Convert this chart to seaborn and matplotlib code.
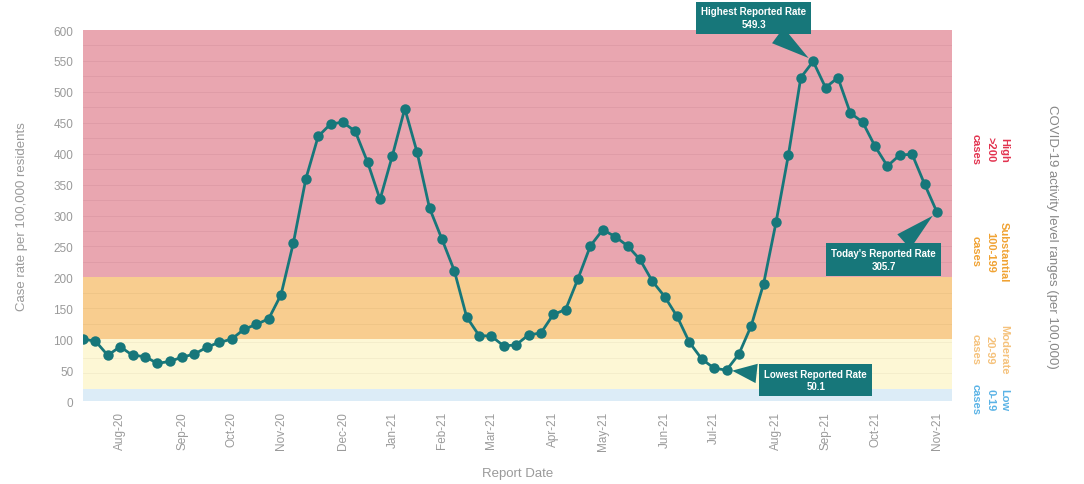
import matplotlib
matplotlib.use("Agg")
import matplotlib.pyplot as plt
import seaborn as sns
import pandas as pd

# Weekly case rate per 100,000 residents
case_rate = [100, 97, 74, 88, 74, 72, 61, 64, 71, 76, 87, 95, 100, 116, 124, 133, 172, 256,
             359, 428, 448, 451, 436, 386, 326, 397, 473, 402, 312, 262, 211, 136, 106, 105, 89,
             91, 107, 110, 140, 148, 198, 251, 277, 266, 251, 229, 194, 169, 137, 95, 68, 53, 50.1, 76,
             122, 190, 289, 398, 523, 549.3, 507, 523, 466, 451, 412, 380, 398, 399, 351, 305.7]
week = list(range(len(case_rate)))

# month tick labels and the week they sit on
tick_weeks = [3, 8, 12, 16, 21, 25, 29, 33, 38, 42, 47, 51, 56, 60, 64, 69]
tick_labels = ["Aug-20", "Sep-20", "Oct-20", "Nov-20", "Dec-20", "Jan-21", "Feb-21", "Mar-21",
               "Apr-21", "May-21", "Jun-21", "Jul-21", "Aug-21", "Sep-21", "Oct-21", "Nov-21"]

# activity level bands
band_low = [0, 20, 100, 200]
band_high = [20, 100, 200, 600]
band_colors = ["#dcecf7", "#fdf7d5", "#f8cd8f", "#e9a6b0"]
grid_colors = ["#d3e5f1", "#f4edcb", "#efc587", "#df9ca7"]

df = pd.DataFrame({"week": week, "rate": case_rate})

teal = "#17777a"
gray = "#9a9a9a"

sns.set_style("white")
plt.rcParams["font.family"] = ["Liberation Sans", "DejaVu Sans"]

fig = plt.figure(figsize=(10.84, 4.85), dpi=100)
ax = fig.add_axes([0.0766, 0.171, 0.8014, 0.765])

# coloured bands + faint gridlines every 25
for lo, hi, c, gc in zip(band_low, band_high, band_colors, grid_colors):
    ax.axhspan(lo, hi, color=c, zorder=0, lw=0)
    for g in range(lo, hi, 25):
        if g > lo:
            ax.axhline(g, color=gc, lw=0.7, zorder=0.5)

sns.lineplot(data=df, x="week", y="rate", ax=ax, color=teal, lw=2.0,
             marker="o", markersize=7.5, markeredgewidth=0, zorder=3)

ax.set_xlim(0, 70.2)
ax.set_ylim(0, 600)
ax.set_yticks(range(0, 601, 50))
ax.set_xticks(tick_weeks)
ax.set_xticklabels(tick_labels, rotation=90)
ax.tick_params(axis="both", colors=gray, labelsize=8.5, length=0, pad=7)
ax.set_xlabel("Report Date", color=gray, fontsize=9.5, labelpad=12)
ax.set_ylabel("Case rate per 100,000 residents", color=gray, fontsize=9.5, labelpad=18)
for s in ax.spines.values():
    s.set_visible(False)

# callouts
peak_i = case_rate.index(max(case_rate))
low_i = case_rate.index(min(case_rate))
last_i = len(case_rate) - 1
callouts = [
    ("Highest Reported Rate\n549.3", peak_i, case_rate[peak_i], 54.2, 620),
    ("Today's Reported Rate\n305.7", last_i, case_rate[last_i], 64.7, 229),
    ("Lowest Reported Rate\n50.1", low_i, case_rate[low_i], 59.2, 34),
]
for txt, xi, yv, tx, ty in callouts:
    ax.annotate(txt, xy=(xi, yv), xytext=(tx, ty), textcoords="data",
                ha="center", va="center", color="white", fontsize=7, fontweight="bold",
                annotation_clip=False, zorder=5, linespacing=1.3,
                bbox=dict(boxstyle="square,pad=0.5", fc=teal, ec="none"),
                arrowprops=dict(arrowstyle="wedge,tail_width=0.7", mutation_scale=20,
                                fc=teal, ec="none", shrinkB=4))

# right side legend text
fig.text(1052 / 1084, 1 - 237 / 485, "COVID-19 activity level ranges (per 100,000)",
         rotation=270, ha="center", va="center", color="#888888", fontsize=9.5)
levels = [("High\n>200\ncases", "#e2334f", 150),
          ("Substantial\n100-199\ncases", "#f0a232", 252),
          ("Moderate\n20-99\ncases", "#f5c27c", 350),
          ("Low\n0-19\ncases", "#5ab3e6", 400)]
for txt, c, yc in levels:
    fig.text(990 / 1084, 1 - yc / 485, txt, rotation=270, ha="center", va="center",
             color=c, fontsize=8, fontweight="bold", linespacing=1.5, multialignment="center")

fig.savefig("out.png", dpi=100)
